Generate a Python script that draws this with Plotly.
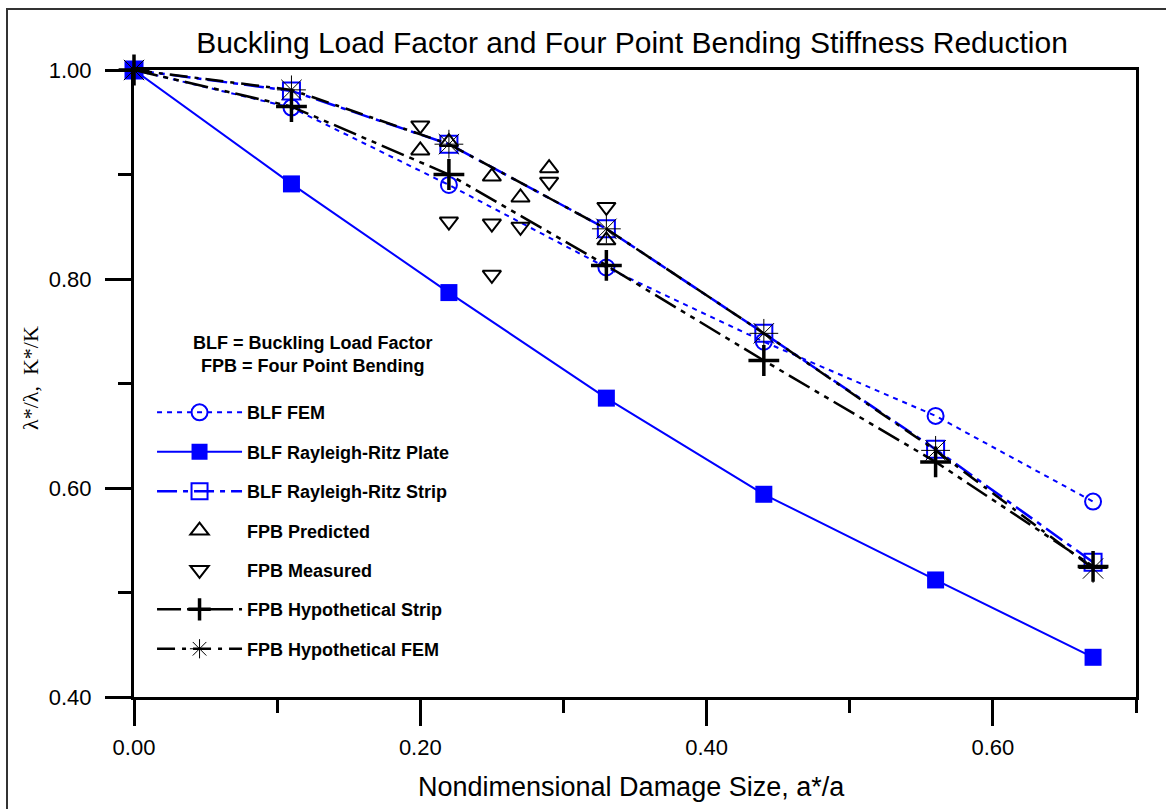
import plotly.graph_objects as go

# ---- data ----
x_sizes = [0.0, 0.11, 0.22, 0.33, 0.44, 0.56, 0.67]
blf_fem = [1.0, 0.964, 0.890, 0.811, 0.740, 0.669, 0.587]
blf_rr_plate = [1.0, 0.891, 0.787, 0.686, 0.594, 0.512, 0.438]
blf_rr_strip = [1.0, 0.980, 0.929, 0.848, 0.748, 0.637, 0.529]
fpb_hyp_strip = [1.0, 0.965, 0.900, 0.813, 0.722, 0.625, 0.525]
fpb_hyp_fem = [1.0, 0.981, 0.929, 0.848, 0.748, 0.636, 0.523]

pred_x = [0.20, 0.22, 0.25, 0.27, 0.29, 0.33]
pred_y = [0.923, 0.931, 0.898, 0.878, 0.906, 0.837]

meas_x = [0.20, 0.22, 0.25, 0.25, 0.27, 0.29, 0.33]
meas_y = [0.947, 0.855, 0.853, 0.804, 0.850, 0.893, 0.869]

x_ticks = [0.0, 0.2, 0.4, 0.6]
y_ticks = [0.4, 0.6, 0.8, 1.0]

BLUE = "#0000ff"
BLACK = "#000000"

fig = go.Figure()

fig.add_trace(go.Scatter(
    x=x_sizes, y=blf_fem, name="BLF FEM", mode="lines+markers",
    line=dict(color=BLUE, width=2, dash="5px,5px"),
    marker=dict(symbol="circle-open", size=16, color=BLUE, line=dict(width=2, color=BLUE)),
    legendgroup="g1", cliponaxis=False))
fig.add_trace(go.Scatter(
    x=x_sizes, y=blf_rr_plate, name="BLF Rayleigh-Ritz Plate", mode="lines+markers",
    line=dict(color=BLUE, width=2),
    marker=dict(symbol="square", size=17, color=BLUE),
    legendgroup="g2", cliponaxis=False))
fig.add_trace(go.Scatter(
    x=x_sizes, y=blf_rr_strip, name="BLF Rayleigh-Ritz Strip", mode="lines+markers",
    line=dict(color=BLUE, width=2.5, dash="20px,6px,5px,6px"),
    marker=dict(symbol="square-open", size=17, color=BLUE, line=dict(width=2, color=BLUE)),
    legendgroup="g3", cliponaxis=False))
fig.add_trace(go.Scatter(
    x=pred_x, y=pred_y, name="FPB Predicted", mode="markers",
    marker=dict(symbol="triangle-up-open", size=16, color=BLACK, line=dict(width=2, color=BLACK)),
    legendgroup="g4", cliponaxis=False))
fig.add_trace(go.Scatter(
    x=meas_x, y=meas_y, name="FPB Measured", mode="markers",
    marker=dict(symbol="triangle-down-open", size=16, color=BLACK, line=dict(width=2, color=BLACK)),
    legendgroup="g5", cliponaxis=False))
fig.add_trace(go.Scatter(
    x=x_sizes, y=fpb_hyp_strip, name="FPB Hypothetical Strip", mode="lines+markers",
    line=dict(color=BLACK, width=2.5, dash="24px,6px,5px,6px,5px,6px"),
    marker=dict(symbol="cross-thin-open", size=22, color=BLACK, line=dict(width=3.5, color=BLACK)),
    legendgroup="g6", cliponaxis=False))
fig.add_trace(go.Scatter(
    x=x_sizes, y=fpb_hyp_fem, name="FPB Hypothetical FEM", mode="lines+markers",
    line=dict(color=BLACK, width=2.5, dash="18px,7px,4px,7px"),
    marker=dict(symbol="asterisk-open", size=24, color=BLACK, line=dict(width=1, color=BLACK)),
    legendgroup="g7", cliponaxis=False))

axis_common = dict(
    showgrid=False, zeroline=False, showline=True, linecolor=BLACK, linewidth=3,
    mirror=True, ticks="outside", tickwidth=3, tickcolor=BLACK, ticklen=26,
    tickfont=dict(family="Liberation Sans", size=22, color=BLACK),
    tickformat=".2f",
)

fig.update_xaxes(**axis_common, range=[0, 0.70], tickvals=x_ticks,
                 minor=dict(dtick=0.1, tick0=0, ticks="outside", ticklen=13, tickwidth=3, tickcolor=BLACK),
                 ticklabelstandoff=3)
fig.update_yaxes(**axis_common, range=[0.40, 1.00], tickvals=y_ticks,
                 minor=dict(dtick=0.1, tick0=0, ticks="outside", ticklen=13, tickwidth=3, tickcolor=BLACK),
                 ticklabelstandoff=9)

fig.update_layout(
    width=1166, height=809,
    margin=dict(l=134, r=30, t=70, b=112),
    paper_bgcolor="white", plot_bgcolor="white",
    title=dict(text="Buckling Load Factor and Four Point Bending Stiffness Reduction",
               x=0.497, xref="paper", y=1 - 42 / 809, yref="container", yanchor="middle",
               xanchor="center",
               font=dict(family="Liberation Sans", size=30, color=BLACK)),
    showlegend=True,
    legend=dict(x=0.018, y=0.483, xanchor="left", yanchor="top",
                bgcolor="rgba(0,0,0,0)", borderwidth=0,
                font=dict(family="Liberation Sans", size=18, color=BLACK, weight="bold"),
                itemwidth=85, tracegroupgap=13, traceorder="grouped"),
    annotations=[
        dict(text="Nondimensional Damage Size, a*/a", xref="paper", yref="paper",
             x=0.497, y=-(787 - 697) / 627, xanchor="center", yanchor="middle",
             showarrow=False, font=dict(family="Liberation Sans", size=27, color=BLACK)),
        dict(text="λ*/λ,  K*/K", xref="paper", yref="paper", textangle=-90,
             x=(30 - 134) / 1002, y=(697 - 378) / 627, xanchor="center", yanchor="middle",
             showarrow=False, font=dict(family="Liberation Serif", size=22, color=BLACK)),
        dict(text="<b>BLF = Buckling Load Factor</b><br><b>FPB = Four Point Bending</b>",
             xref="paper", yref="paper", x=(313 - 134) / 1002, y=(697 - 354) / 627,
             xanchor="center", yanchor="middle", align="center", showarrow=False,
             font=dict(family="Liberation Sans", size=18, color=BLACK)),
    ],
    shapes=[
        dict(type="rect", xref="paper", yref="paper",
             x0=(7 - 134) / 1002, x1=(1175 - 134) / 1002,
             y0=-(820 - 697) / 627, y1=1 + (70 - 9) / 627,
             line=dict(color="#333333", width=2), fillcolor="rgba(0,0,0,0)", layer="below"),
    ],
)

fig.write_html("out.html", config={"displayModeBar": False},
               post_script="document.body.style.margin='0px';")
